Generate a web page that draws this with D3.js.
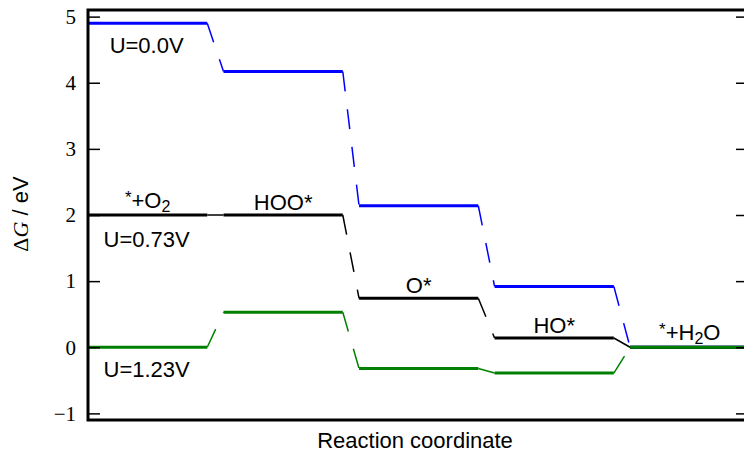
<!DOCTYPE html>
<html>
<head>
<meta charset="utf-8">
<script src="https://cdn.jsdelivr.net/npm/d3@7"></script>
<style>
  html, body { margin: 0; padding: 0; background: #fff; }
  svg { display: block; }
  .sans { font-family: "Liberation Sans", Arial, Helvetica, sans-serif; }
  .serif { font-family: "Liberation Serif", "Times New Roman", serif; }
</style>
</head>
<body>
<svg id="chart" width="744" height="454"></svg>
<script>
// Reaction steps of the oxygen reduction pathway
const steps = ["*+O2", "HOO*", "O*", "HO*", "*+H2O"];

// Free energy of each step (eV) at three electrode potentials
const potentials = ["U=0.0V", "U=0.73V", "U=1.23V"];
const energyU000 = [4.90, 4.17, 2.14, 0.92, 0.00];
const energyU073 = [2.00, 2.00, 0.74, 0.14, 0.00];
const energyU123 = [0.00, 0.53, -0.32, -0.39, 0.00];
const seriesColors = ["#0000ff", "#000000", "#008000"];

const yTicks = [-1, 0, 1, 2, 3, 4, 5];

const series = [
  { name: potentials[0], values: energyU000, color: seriesColors[0] },
  { name: potentials[1], values: energyU073, color: seriesColors[1] },
  { name: potentials[2], values: energyU123, color: seriesColors[2] }
];

const svg = d3.select("#chart");
const plot = { left: 88, top: 10, right: 748, bottom: 420 };
const levelWidth = 0.88;
const labelSize = 22;

const x = d3.scaleLinear().domain([0, 4.87]).range([plot.left, plot.right]);
const y = d3.scaleLinear().domain([-1.1, 5.1]).range([plot.bottom, plot.top]);

svg.append("defs").append("clipPath").attr("id", "plotClip")
  .append("rect")
  .attr("x", plot.left).attr("y", plot.top)
  .attr("width", plot.right - plot.left).attr("height", plot.bottom - plot.top);

const g = svg.append("g").attr("clip-path", "url(#plotClip)");

series.forEach(s => {
  const sg = g.append("g");
  // thin dashed connectors between consecutive levels
  s.values.slice(0, -1).forEach((v, i) => {
    sg.append("line")
      .attr("x1", x(i + levelWidth)).attr("y1", y(v))
      .attr("x2", x(i + 1)).attr("y2", y(s.values[i + 1]))
      .attr("stroke", s.color)
      .attr("stroke-width", 1.5)
      .attr("stroke-dasharray", "20,18");
  });
  // thick horizontal energy levels
  s.values.forEach((v, i) => {
    sg.append("line")
      .attr("x1", x(i)).attr("y1", y(v))
      .attr("x2", i === s.values.length - 1 ? plot.right : x(i + levelWidth)).attr("y2", y(v))
      .attr("stroke", s.color)
      .attr("stroke-width", 3);
  });
});

// axes: ticks inward on both sides, labels on the left
const yAxisLeft = d3.axisRight(y).tickValues(yTicks).tickSize(12).tickFormat("");
const yAxisRight = d3.axisLeft(y).tickValues(yTicks).tickSize(12).tickFormat("");
svg.append("g").attr("transform", `translate(${plot.left},0)`).call(yAxisLeft)
  .call(a => a.select(".domain").remove())
  .selectAll("line").attr("stroke", "#000").attr("stroke-width", 1.5);
svg.append("g").attr("transform", `translate(${plot.right},0)`).call(yAxisRight)
  .call(a => a.select(".domain").remove())
  .selectAll("line").attr("stroke", "#000").attr("stroke-width", 1.5);

svg.append("g").selectAll("text").data(yTicks).join("text")
  .attr("class", "serif")
  .attr("x", 76)
  .attr("y", d => y(d))
  .attr("dy", "0.35em")
  .attr("text-anchor", "end")
  .attr("font-size", 21)
  .text(d => d < 0 ? "\u2212" + Math.abs(d) : d);

// frame
svg.append("rect")
  .attr("x", plot.left).attr("y", plot.top)
  .attr("width", plot.right - plot.left).attr("height", plot.bottom - plot.top)
  .attr("fill", "none").attr("stroke", "#000").attr("stroke-width", 3);

// axis titles
svg.append("text").attr("class", "sans")
  .attr("x", 415).attr("y", 448)
  .attr("text-anchor", "middle").attr("font-size", 22)
  .text("Reaction coordinate");

const yl = svg.append("text")
  .attr("transform", "translate(28,214) rotate(-90)")
  .attr("text-anchor", "middle").attr("font-size", 22);
yl.append("tspan").attr("class", "serif").text("\u0394");
yl.append("tspan").attr("class", "serif").attr("font-style", "italic").text("G");
yl.append("tspan").attr("class", "sans").text(" / eV");

// potential labels under the first level
const potentialOffset = 30;
svg.append("text").attr("class", "sans").attr("text-anchor", "middle").attr("font-size", labelSize)
  .attr("x", x(levelWidth / 2) - 1).attr("y", y(energyU000[0]) + potentialOffset).text(potentials[0]);
svg.append("text").attr("class", "sans").attr("text-anchor", "middle").attr("font-size", labelSize)
  .attr("x", x(levelWidth / 2) - 1).attr("y", y(energyU073[0]) + potentialOffset + 2).text(potentials[1]);
svg.append("text").attr("class", "sans").attr("text-anchor", "middle").attr("font-size", labelSize)
  .attr("x", x(levelWidth / 2) - 1).attr("y", y(energyU123[0]) + potentialOffset).text(potentials[2]);

// species labels above the U=0.73V levels
function speciesLabel(i, lift, parts) {
  const t = svg.append("text").attr("class", "sans").attr("text-anchor", "middle").attr("font-size", labelSize)
    .attr("x", x(i + levelWidth / 2)).attr("y", y(energyU073[i]) - lift);
  parts.forEach(p => {
    const ts = t.append("tspan").text(p.t);
    if (p.sub) ts.attr("font-size", 16).attr("dy", 4);
    if (p.sup) ts.attr("font-size", 17).attr("dy", -5);
    if (p.back) ts.attr("dy", p.back);
  });
}
speciesLabel(0, 7, [{ t: "*", sup: true }, { t: "+O", back: 5 }, { t: "2", sub: true }]);
speciesLabel(1, 5, [{ t: "HOO*" }]);
speciesLabel(2, 5, [{ t: "O*" }]);
speciesLabel(3, 5, [{ t: "HO*" }]);
const lastLabel = svg.append("text").attr("class", "sans").attr("text-anchor", "middle").attr("font-size", labelSize)
  .attr("x", x(4 + 0.44)).attr("y", y(energyU073[4]) - 7);
lastLabel.append("tspan").attr("font-size", 17).attr("dy", -5).text("*");
lastLabel.append("tspan").attr("dy", 5).text("+H");
lastLabel.append("tspan").attr("font-size", 16).attr("dy", 4).text("2");
lastLabel.append("tspan").attr("dy", -4).text("O");
</script>
</body>
</html>
